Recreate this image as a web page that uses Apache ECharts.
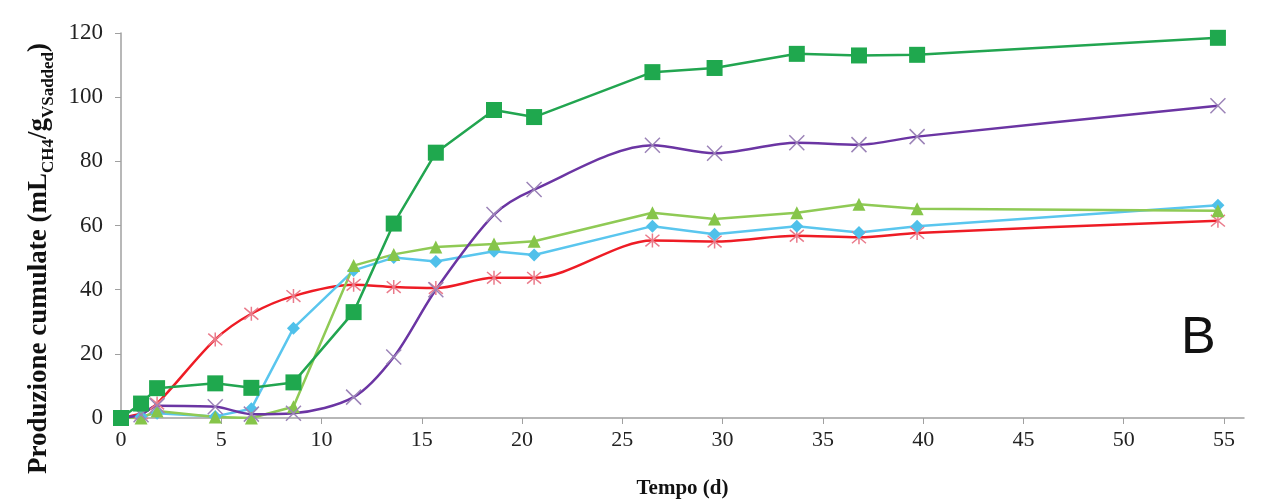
<!DOCTYPE html>
<html>
<head>
<meta charset="utf-8">
<script src="https://cdn.jsdelivr.net/npm/echarts@6/dist/echarts.min.js"></script>
<style>
  html, body { margin: 0; padding: 0; background: #fff; }
  #chart { width: 1267px; height: 504px; }
</style>
</head>
<body>
<div id="chart"></div>
<script>
// giorni di misura (asse x)
var tempo = [0, 1, 1.8, 4.7, 6.5, 8.6, 11.6, 13.6, 15.7, 18.6, 20.6, 26.5, 29.6, 33.7, 36.8, 39.7, 54.7];
// produzione cumulata per serie
var rosso = [0, 1.5, 4.5, 24.5, 32.5, 38, 41.5, 40.8, 40.5, 43.7, 43.7, 55.3, 55, 56.8, 56.3, 57.7, 61.5];
var azzurro = [0, 0.5, 1.5, 0.5, 2.9, 28, 46, 50, 48.8, 52, 50.8, 59.8, 57.3, 59.8, 57.8, 59.8, 66.3];
var verdeChiaro = [0, 0, 2.2, 0.3, 0, 3.5, 47.5, 51, 53.3, 54.2, 55.1, 64, 62, 64, 66.6, 65.2, 64.6];
var viola = [0, 1, 3.8, 3.5, 1.2, 1.5, 6.5, 19, 40, 63.4, 71.2, 85, 82.5, 85.8, 85.2, 87.7, 97.3];
var verdeScuro = [0, 4.5, 9.3, 10.8, 9.4, 11.1, 33, 60.6, 82.7, 96, 93.8, 107.8, 109.1, 113.5, 113, 113.2, 118.5];
// etichette asse x
var xTicks = [0, 5, 10, 15, 20, 25, 30, 35, 40, 45, 50, 55];

function coppie(valori) {
    return tempo.map(function (t, i) { return [t, valori[i]]; });
}

var asterisco = 'path://M0 0L10 10M10 0L0 10M5 -1L5 11';
var croce = 'path://M0 0L10 10M10 0L0 10';

var option = {
    animation: false,
    backgroundColor: '#fff',
    grid: { left: 121, right: 23, top: 33, bottom: 85 },
    xAxis: {
        type: 'value',
        min: 0,
        max: 56,
        name: 'Tempo (d)',
        nameLocation: 'middle',
        nameGap: 60,
        nameTextStyle: { fontFamily: 'Liberation Serif', fontWeight: 'bold', fontSize: 21, color: '#111' },
        axisLine: { lineStyle: { color: '#a0a0a0', width: 1.5 } },
        axisTick: { customValues: xTicks, length: 6, lineStyle: { color: '#a0a0a0' } },
        axisLabel: { customValues: xTicks, margin: 11, fontFamily: 'Liberation Serif', fontSize: 22, color: '#222' },
        splitLine: { show: false }
    },
    yAxis: {
        type: 'value',
        min: 0,
        max: 120,
        interval: 20,
        name: '{a|Produzione cumulate (mL}{s|CH4}{a|/g}{s|VSadded}{a|)}',
        nameLocation: 'middle',
        nameRotate: 90,
        nameGap: 64,
        nameTextStyle: {
            padding: [0, 66, 0, 0],
            rich: {
                a: { fontFamily: 'Liberation Serif', fontWeight: 'bold', fontSize: 27, color: '#111', lineHeight: 32, verticalAlign: 'bottom' },
                s: { fontFamily: 'Liberation Serif', fontWeight: 'bold', fontSize: 17, color: '#111', lineHeight: 32, verticalAlign: 'bottom', padding: [0, 0, -5, 0] }
            }
        },
        axisLine: { show: true, lineStyle: { color: '#a0a0a0', width: 1.5 } },
        axisTick: { show: true, length: 6, lineStyle: { color: '#a0a0a0' } },
        axisLabel: { margin: 18, fontFamily: 'Liberation Serif', fontSize: 23, color: '#222' },
        splitLine: { show: false }
    },
    series: [
        {
            name: 'rosso', type: 'line', smooth: 0.3,
            data: coppie(rosso),
            symbol: asterisco, symbolSize: 14,
            lineStyle: { color: '#ee1c25', width: 2.5 },
            itemStyle: { color: 'none', borderColor: '#ea7b8b', borderWidth: 1.5 }
        },
        {
            name: 'azzurro', type: 'line',
            data: coppie(azzurro),
            symbol: 'diamond', symbolSize: 13,
            lineStyle: { color: '#5ac6ee', width: 2.5 },
            itemStyle: { color: '#4fc0ea' }
        },
        {
            name: 'verdeChiaro', type: 'line',
            data: coppie(verdeChiaro),
            symbol: 'triangle', symbolSize: 13,
            lineStyle: { color: '#8fca55', width: 2.5 },
            itemStyle: { color: '#86c54a' }
        },
        {
            name: 'viola', type: 'line', smooth: 0.3,
            data: coppie(viola),
            symbol: croce, symbolSize: 15,
            lineStyle: { color: '#6b35a3', width: 2.5 },
            itemStyle: { color: 'none', borderColor: '#9c84b8', borderWidth: 1.5 }
        },
        {
            name: 'verdeScuro', type: 'line',
            data: coppie(verdeScuro),
            symbol: 'rect', symbolSize: 16,
            lineStyle: { color: '#22a550', width: 2.5 },
            itemStyle: { color: '#1fa84e' }
        }
    ],
    graphic: [
        {
            type: 'text', left: 1181, top: 313,
            style: { text: 'B', fontFamily: 'Liberation Sans', fontSize: 52, fill: '#111' }
        }
    ]
};

var myChart = echarts.init(document.getElementById('chart'));
myChart.setOption(option);
</script>
</body>
</html>
